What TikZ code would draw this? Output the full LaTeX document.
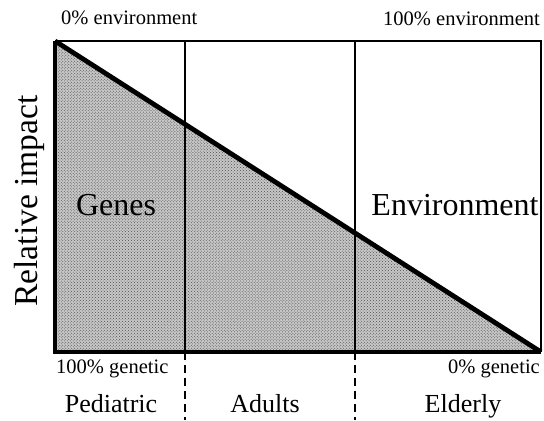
\documentclass[tikz,border=0pt]{standalone}
\usepackage{fontspec}
\setmainfont{Liberation Serif}
\usetikzlibrary{patterns}

\begin{document}
\begin{tikzpicture}[x=1bp,y=-1bp,
    txt/.style={inner sep=0pt},
    large/.style={txt,font=\fontsize{32bp}{36bp}\selectfont},
    medium/.style={txt,font=\fontsize{26bp}{30bp}\selectfont},
    tiny/.style={txt,font=\fontsize{20.5bp}{24bp}\selectfont},
    heavy/.style={line width=4.8bp,line join=miter},
    light/.style={line width=1.6bp},
    split/.style={line width=1.6bp,dash pattern=on 8bp off 5bp}]
  \useasboundingbox (0,0) rectangle (544,420);
  % corners of the frame
  \coordinate (tl) at (55,41);
  \coordinate (tr) at (541,41);
  \coordinate (bl) at (55,352);
  \coordinate (br) at (541,352);
  % genetic share below the diagonal
  \fill[black!22] (tl) -- (bl) -- (br) -- cycle;
  \fill[pattern=crosshatch dots,pattern color=black!70] (tl) -- (bl) -- (br) -- cycle;
  % age boundaries
  \foreach \xa/\nm in {185/ped,355/adu} {
    \coordinate (\nm top) at (\xa,41);
    \coordinate (\nm bot) at (\xa,352);
    \coordinate (\nm end) at (\xa,420);
    \draw[light] (\nm top) -- (\nm bot);
    \draw[split] (\nm bot) -- (\nm end);
  }
  \draw[light] (tl) -- (tr) -- (br);
  \draw[heavy] (tl) -- (bl) -- (br);
  \draw[heavy] (tl) -- (br);
  % labels
  \node[tiny,anchor=base west] (envlow) at (61,24) {0\% environment};
  \node[tiny,anchor=base east] (envhigh) at (540,25) {100\% environment};
  \node[tiny,anchor=base west] (genhigh) at (56,373) {100\% genetic};
  \node[tiny,anchor=base east] (genlow) at (540,373) {0\% genetic};
  \node[large,font=\fontsize{33.5bp}{38bp}\selectfont,rotate=90,anchor=base] (impact) at (37,201) {Relative impact};
  \node[large,anchor=base] (genes) at (116,215) {Genes};
  \node[large,anchor=base] (environ) at (455,215) {Environment};
  \node[medium,anchor=base] (pediatric) at (111,412) {Pediatric};
  \node[medium,anchor=base] (adults) at (265,412) {Adults};
  \node[medium,anchor=base] (elderly) at (463,412) {Elderly};
\end{tikzpicture}
\end{document}
